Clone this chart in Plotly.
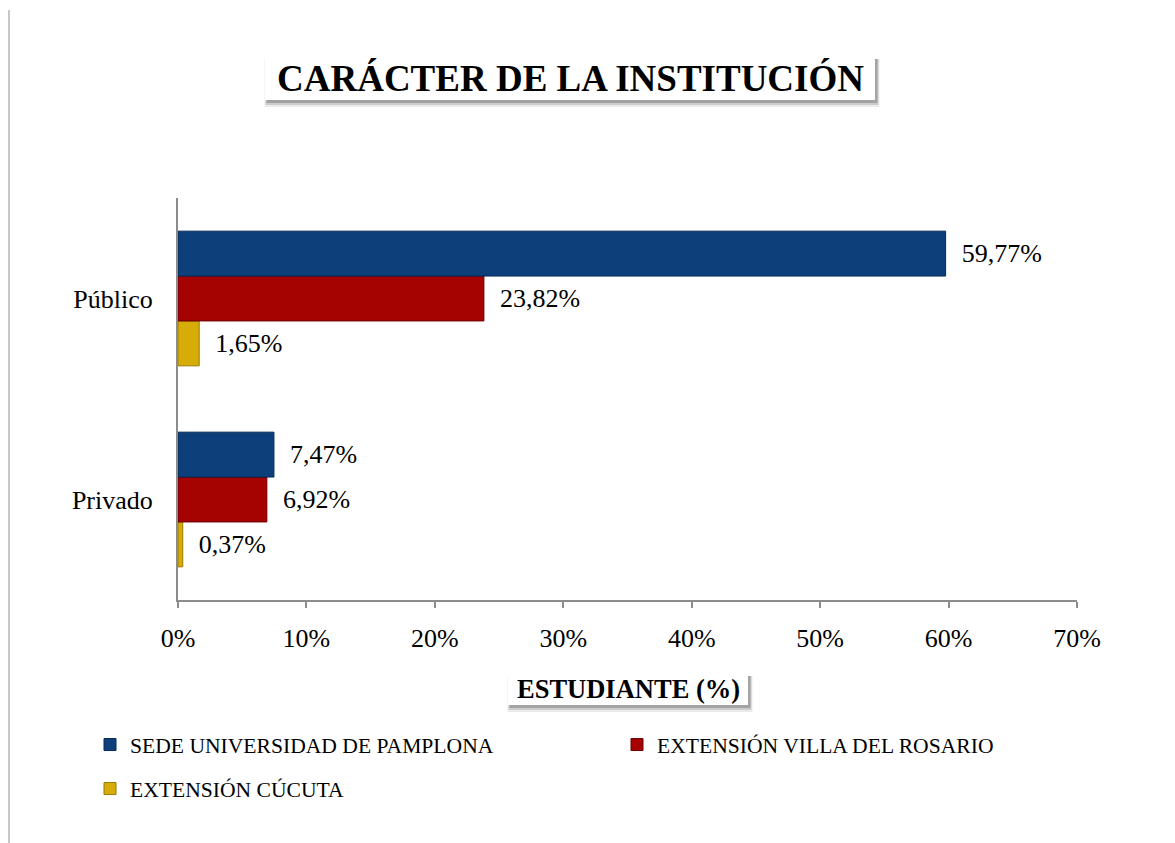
import plotly.graph_objects as go

categories = ["Privado", "Público"]
series_names = ["SEDE UNIVERSIDAD DE PAMPLONA", "EXTENSIÓN VILLA DEL ROSARIO", "EXTENSIÓN CÚCUTA"]
sede_pamplona = [7.47, 59.77]
villa_rosario = [6.92, 23.82]
cucuta = [0.37, 1.65]
x_ticks = [0, 10, 20, 30, 40, 50, 60, 70]
x_tick_labels = ["0%", "10%", "20%", "30%", "40%", "50%", "60%", "70%"]

colors = ["#0d3f7a", "#a50202", "#d6ac08"]
line_colors = ["#062a55", "#6e0000", "#9a7a00"]
series_values = [sede_pamplona, villa_rosario, cucuta]
legend_ids = ["legend", "legend", "legend2"]

FONT = "Liberation Serif, Times New Roman, serif"

def fmt(v):
    return "  " + f"{v:.2f}".replace(".", ",") + "%"

fig = go.Figure()
# add in reverse so the first series is drawn at the top of each group
for i in [2, 1, 0]:
    fig.add_trace(go.Bar(
        y=categories, x=series_values[i], orientation="h",
        name=series_names[i],
        marker=dict(color=colors[i], line=dict(color=line_colors[i], width=1)),
        text=[fmt(v) for v in series_values[i]],
        textposition="outside", cliponaxis=False,
        textfont=dict(family=FONT, size=26, color="#000000"),
        legendrank=i + 1,
        legend=legend_ids[i],
    ))

OFF = 8  # page body margin
W, H = 1175 - OFF, 843 - OFF
L, R, T, B = 178 - OFF, 98, 198 - OFF, 243
pw, ph = W - L - R, H - T - B

def px(x):
    return (x - OFF - L) / pw

def py(y):
    return (H - B - (y - OFF)) / ph

shapes = []
def boxed(x0, y0, x1, y1):
    # soft shadow below
    for k, op in [(7, 0.08), (5, 0.13), (3, 0.2)]:
        shapes.append(dict(type="rect", xref="paper", yref="paper",
                           x0=px(x0 + 3 - k / 2), x1=px(x1 + k / 2 + 1), y0=py(y0 + 6), y1=py(y1 + k),
                           fillcolor="#000000", opacity=op, line=dict(width=0), layer="above"))
    shapes.append(dict(type="rect", xref="paper", yref="paper",
                       x0=px(x0), x1=px(x1), y0=py(y0), y1=py(y1),
                       fillcolor="#ffffff", line=dict(width=0), layer="above"))

boxed(265, 53, 875, 100)
boxed(508, 670, 748, 705)
# left frame line
shapes.append(dict(type="line", xref="paper", yref="paper",
                   x0=px(9), x1=px(9), y0=py(10), y1=py(843),
                   line=dict(color="#c8c8c8", width=2)))

annotations = [
    dict(text="<b>CARÁCTER DE LA INSTITUCIÓN</b>", xref="paper", yref="paper",
         x=px(570), y=py(78), showarrow=False, xanchor="center", yanchor="middle",
         font=dict(family=FONT, size=37, color="#000000")),
    dict(text="<b>ESTUDIANTE (%)</b>", xref="paper", yref="paper",
         x=px(628), y=py(689), showarrow=False, xanchor="center", yanchor="middle",
         font=dict(family=FONT, size=26.5, color="#000000")),
]

legend_common = dict(orientation="h", xanchor="left", yanchor="middle",
                     font=dict(family=FONT, size=21.6, color="#000000"),
                     itemwidth=30, bgcolor="rgba(0,0,0,0)")

fig.update_layout(
    width=W, height=H,
    margin=dict(l=L, r=R, t=T, b=B),
    paper_bgcolor="#ffffff", plot_bgcolor="#ffffff",
    barmode="group", bargap=0.33, bargroupgap=0.0,
    font=dict(family=FONT, size=26, color="#000000"),
    showlegend=True,
    legend=dict(x=px(90), y=py(745), entrywidth=482, entrywidthmode="pixels", **legend_common),
    legend2=dict(x=px(90), y=py(789), **legend_common),
    shapes=shapes,
    annotations=annotations,
    xaxis=dict(range=[0, 70], tickvals=x_ticks, ticktext=x_tick_labels,
               showgrid=False, zeroline=False, showline=True, linecolor="#8c8c8c", linewidth=2,
               ticks="outside", ticklen=6, tickcolor="#8c8c8c", tickwidth=2,
               ticklabelstandoff=8, tickfont=dict(family=FONT, size=26)),
    yaxis=dict(showgrid=False, zeroline=False, showline=True, linecolor="#8c8c8c", linewidth=2,
               ticks="", ticklabelstandoff=18, tickfont=dict(family=FONT, size=26),
               categoryorder="array", categoryarray=categories),
)

fig.write_html("out.html")
